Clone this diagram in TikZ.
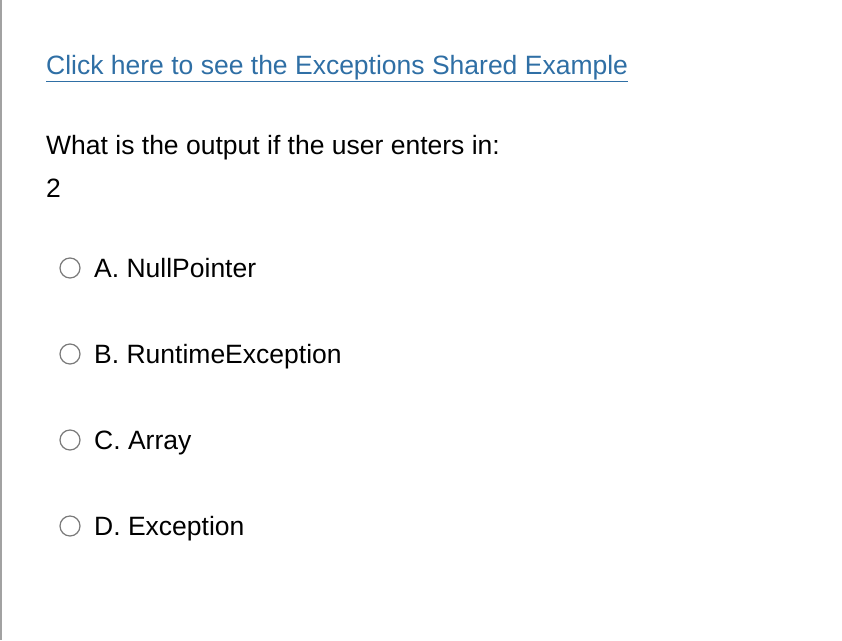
\documentclass[tikz,border=0pt]{standalone}
\usepackage{fontspec}
\setmainfont{Liberation Sans}
\definecolor{linkblue}{HTML}{2F6FA5}
\definecolor{ring}{HTML}{7A7A7A}
\begin{document}
\begin{tikzpicture}[x=1pt,y=-1pt,
  txt/.style={anchor=base west,inner sep=0pt,font=\fontsize{26.5}{30}\selectfont},
  opt/.style={anchor=base west,inner sep=0pt,font=\fontsize{26.5}{30}\selectfont},
  radio/.style={circle,draw=ring,line width=1.2pt,minimum size=20pt,inner sep=0pt}]
\useasboundingbox (0,0) rectangle (842,640);
\fill[white] (0,0) rectangle (842,640);
\draw[ring!70,line width=2pt] (1,0) -- (1,640);
\node[txt,text=linkblue] (link) at (46,74) {\underline{Click here to see the Exceptions Shared Example}};
\node[txt] (q) at (46,154) {What is the output if the user enters in:};
\node[txt] (two) at (46,197) {2};
\node[radio] (ra) at (70,268) {};
\node[opt] (a) at (94,277) {A. NullPointer};
\node[radio] (rb) at (70,354) {};
\node[opt] (b) at (94,363) {B. RuntimeException};
\node[radio] (rc) at (70,440) {};
\node[opt] (c) at (94,449) {C. Array};
\node[radio] (rd) at (70,526) {};
\node[opt] (d) at (94,535) {D. Exception};
\end{tikzpicture}
\end{document}
